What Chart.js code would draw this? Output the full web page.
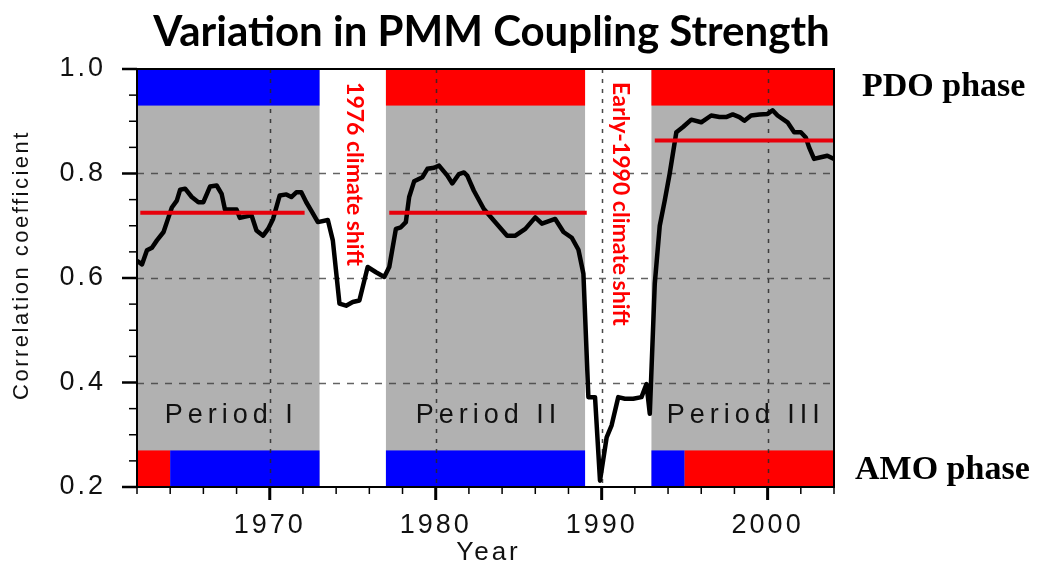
<!DOCTYPE html>
<html>
<head>
<meta charset="utf-8">
<script src="https://cdn.jsdelivr.net/npm/chart.js@4.4.1/dist/chart.umd.min.js"></script>
<style>
  html, body { margin: 0; padding: 0; background: #fff; }
</style>
</head>
<body>
<canvas id="pmmChart" width="1038" height="567"></canvas>
<script>
// PMM coupling strength
const years = [
  1962.0, 1962.3, 1962.6, 1962.9, 1963.2, 1963.6, 1963.8, 1964.1, 1964.4, 1964.6,
  1964.9, 1965.3, 1965.7, 1966.0, 1966.4, 1966.8, 1967.1, 1967.3, 1968.0, 1968.2,
  1968.6, 1968.9, 1969.2, 1969.6, 1969.9, 1970.2, 1970.6, 1971.0, 1971.3, 1971.6,
  1971.9, 1972.2, 1972.5, 1972.9, 1973.5, 1973.8, 1974.2, 1974.6, 1975.0, 1975.4,
  1975.9, 1976.4, 1976.9, 1977.2, 1977.6, 1977.9, 1978.2, 1978.4, 1978.7, 1979.2,
  1979.5, 1979.9, 1980.2, 1980.7, 1981.0, 1981.4, 1981.7, 1981.9, 1982.3, 1982.9,
  1983.5, 1984.3, 1984.8, 1985.4, 1986.0, 1986.4, 1987.2, 1987.7, 1988.2, 1988.6,
  1988.9, 1989.2, 1989.6, 1989.9, 1990.3, 1990.6, 1991.0, 1991.4, 1991.9, 1992.4,
  1992.7, 1992.9, 1993.2, 1993.5, 1993.8, 1994.1, 1994.5, 1994.9, 1995.4, 1996.0,
  1996.6, 1997.1, 1997.5, 1997.9, 1998.3, 1998.6, 1999.0, 1999.5, 2000.0, 2000.3,
  2000.6, 2001.2, 2001.6, 2002.0, 2002.3, 2002.5, 2002.8, 2003.2, 2003.6, 2004.0
];
const coupling = [
  0.633, 0.626, 0.653, 0.658, 0.672, 0.688, 0.707, 0.735, 0.748, 0.769,
  0.771, 0.755, 0.745, 0.745, 0.775, 0.777, 0.761, 0.731, 0.731, 0.715,
  0.718, 0.720, 0.691, 0.681, 0.694, 0.713, 0.758, 0.760, 0.755, 0.764,
  0.764, 0.745, 0.729, 0.707, 0.711, 0.672, 0.551, 0.547, 0.554, 0.557,
  0.621, 0.611, 0.602, 0.621, 0.694, 0.697, 0.707, 0.755, 0.785, 0.793,
  0.809, 0.811, 0.815, 0.796, 0.781, 0.799, 0.802, 0.796, 0.767, 0.732,
  0.710, 0.681, 0.681, 0.694, 0.716, 0.704, 0.713, 0.688, 0.677, 0.654,
  0.608, 0.372, 0.372, 0.212, 0.295, 0.318, 0.372, 0.369, 0.369, 0.372,
  0.397, 0.340, 0.589, 0.700, 0.748, 0.800, 0.879, 0.889, 0.903, 0.898,
  0.911, 0.908, 0.908, 0.913, 0.908, 0.901, 0.911, 0.913, 0.914, 0.921,
  0.911, 0.898, 0.879, 0.879, 0.869, 0.850, 0.828, 0.831, 0.834, 0.828
];

// periods (grey) and their mean coupling (red lines)
const periodNames = ["Period I", "Period II", "Period III"];
const periodStart = [1962, 1977, 1993];
const periodEnd = [1973, 1989, 2004];
const periodMean = [0.725, 0.725, 0.863];
const meanStart = [1962.2, 1977.2, 1993.2];
const meanEnd = [1972.1, 1989.1, 2004];
const pdoPhase = [-1, 1, 1]; // -1 = cold (blue), 1 = warm (red)

// AMO phase segments
const amoStart = [1962, 1964, 1977, 1993, 1995];
const amoEnd = [1964, 1973, 1989, 1995, 2004];
const amoPhase = [1, -1, -1, -1, 1];

// climate shifts (white gaps)
const shiftNames = ["1976 climate shift", "Early-1990 climate shift"];
const shiftCenter = [1975, 1991];

const RED = "#ff0000";
const BLUE = "#0000ff";
const GREY = "#b1b1b1";

const isMajorX = (v) => Math.round(v) % 10 === 0;
const isMajorY = (v) => Math.round(v * 100) % 20 === 0;

const phasePlugin = {
  id: "phases",
  beforeDraw(chart) {
    const { ctx, chartArea: a, scales: { x, y } } = chart;
    ctx.save();
    ctx.fillStyle = "#fff";
    ctx.fillRect(0, 0, chart.width, chart.height);

    const yTop = y.getPixelForValue(1.0);
    const yPdo = y.getPixelForValue(0.93);
    const yAmo = y.getPixelForValue(0.27);
    const yBot = y.getPixelForValue(0.2);

    periodStart.forEach((s, i) => {
      const x0 = x.getPixelForValue(s);
      const x1 = x.getPixelForValue(periodEnd[i]);
      ctx.fillStyle = GREY;
      ctx.fillRect(x0, a.top, x1 - x0, a.bottom - a.top);
      ctx.fillStyle = pdoPhase[i] > 0 ? RED : BLUE;
      ctx.fillRect(x0, yTop, x1 - x0, yPdo - yTop);
    });
    amoStart.forEach((s, i) => {
      const x0 = x.getPixelForValue(s);
      const x1 = x.getPixelForValue(amoEnd[i]);
      ctx.fillStyle = amoPhase[i] > 0 ? RED : BLUE;
      ctx.fillRect(x0, yAmo, x1 - x0, yBot - yAmo);
    });

    // dashed grid at major ticks
    ctx.lineWidth = 1.5;
    ctx.strokeStyle = "rgba(60,60,60,0.8)";
    ctx.setLineDash([7, 7]);
    y.ticks.forEach((t) => {
      if (!isMajorY(t.value) || t.value < 0.3 || t.value > 0.9) return;
      const py = Math.round(y.getPixelForValue(t.value)) + 0.5;
      ctx.beginPath();
      ctx.moveTo(a.left, py);
      ctx.lineTo(a.right, py);
      ctx.stroke();
    });
    ctx.strokeStyle = "rgba(40,40,40,0.85)";
    ctx.setLineDash([4, 6]);
    x.ticks.forEach((t) => {
      if (!isMajorX(t.value)) return;
      const px = Math.round(x.getPixelForValue(t.value)) + 0.5;
      ctx.beginPath();
      ctx.moveTo(px, a.top);
      ctx.lineTo(px, a.bottom);
      ctx.stroke();
    });
    ctx.restore();
    // wide spacing for the tick labels drawn by the scales
    ctx.letterSpacing = "3px";
  },
  afterDraw(chart) {
    const { ctx, chartArea: a, scales: { x, y } } = chart;
    ctx.save();
    ctx.letterSpacing = "0px";

    // frame and tick marks
    ctx.strokeStyle = "#000";
    ctx.lineWidth = 2;
    ctx.strokeRect(a.left, a.top, a.right - a.left, a.bottom - a.top);
    x.ticks.forEach((t) => {
      const px = x.getPixelForValue(t.value);
      ctx.lineWidth = isMajorX(t.value) ? 3 : 1.5;
      ctx.beginPath();
      ctx.moveTo(px, a.bottom);
      ctx.lineTo(px, a.bottom + (isMajorX(t.value) ? 13 : 7));
      ctx.stroke();
    });
    y.ticks.forEach((t) => {
      const py = y.getPixelForValue(t.value);
      ctx.lineWidth = isMajorY(t.value) ? 2.5 : 1.5;
      ctx.beginPath();
      ctx.moveTo(a.left, py);
      ctx.lineTo(a.left - (isMajorY(t.value) ? 15 : 8), py);
      ctx.stroke();
    });

    // axis titles
    ctx.fillStyle = "#111";
    ctx.font = "22px 'Liberation Sans'";
    ctx.letterSpacing = "2.5px";
    ctx.textAlign = "center";
    ctx.textBaseline = "middle";
    ctx.save();
    ctx.translate(22, (a.top + a.bottom) / 2 - 13);
    ctx.rotate(-Math.PI / 2);
    ctx.fillText("Correlation coefficient", 0, 0);
    ctx.restore();
    ctx.font = "26px 'Liberation Sans'";
    ctx.letterSpacing = "3px";
    ctx.fillText("Year", (a.left + a.right) / 2 + 3, 553);

    // period labels
    ctx.font = "27px 'Liberation Sans'";
    ctx.letterSpacing = "5px";
    ctx.textBaseline = "alphabetic";
    periodNames.forEach((name, i) => {
      const cx = (x.getPixelForValue(periodStart[i]) + x.getPixelForValue(periodEnd[i])) / 2;
      ctx.fillText(name, cx + 3, y.getPixelForValue(0.323));
    });

    // climate shift labels (vertical)
    ctx.letterSpacing = "0px";
    ctx.fillStyle = RED;
    ctx.font = "bold 23px Lato";
    ctx.textAlign = "left";
    ctx.textBaseline = "middle";
    shiftNames.forEach((name, i) => {
      ctx.save();
      ctx.translate(x.getPixelForValue(shiftCenter[i]) + 2, y.getPixelForValue(0.975));
      ctx.rotate(Math.PI / 2);
      ctx.fillText(name, 0, 0);
      ctx.restore();
    });

    // phase labels on the right
    ctx.fillStyle = "#000";
    ctx.font = "bold 34px 'Liberation Serif'";
    ctx.fillText("PDO phase", a.right + 28, y.getPixelForValue(0.965));
    ctx.fillText("AMO phase", a.right + 21, y.getPixelForValue(0.232));

    // title
    ctx.font = "bold 42px Lato";
    ctx.textAlign = "center";
    ctx.textBaseline = "alphabetic";
    ctx.fillText("Variation in PMM Coupling Strength", (a.left + a.right) / 2 + 6, 46);
    ctx.restore();
  }
};

const ctxPmm = document.getElementById("pmmChart").getContext("2d");
new Chart(ctxPmm, {
  type: "line",
  data: {
    datasets: [
      {
        label: "PMM coupling",
        data: years.map((yr, i) => ({ x: yr, y: coupling[i] })),
        borderColor: "#000",
        borderWidth: 4.5,
        borderJoinStyle: "round",
        pointRadius: 0,
        tension: 0,
        order: 1,
      },
      ...periodMean.map((m, i) => ({
        label: periodNames[i] + " mean",
        data: [{ x: meanStart[i], y: m }, { x: meanEnd[i], y: m }],
        borderColor: "#e8000b",
        borderWidth: 4,
        pointRadius: 0,
        order: 0,
      })),
    ],
  },
  options: {
    responsive: false,
    animation: false,
    layout: { padding: { top: 69, right: 204, left: 0, bottom: 0 } },
    plugins: {
      legend: { display: false },
      tooltip: { enabled: false },
    },
    scales: {
      x: {
        type: "linear",
        min: 1962,
        max: 2004,
        grid: { display: false },
        border: { display: false },
        afterFit: (scale) => { scale.height = 80; },
        ticks: {
          stepSize: 2,
          autoSkip: false,
          maxRotation: 0,
          padding: 14,
          color: "#111",
          font: { family: "Liberation Sans", size: 27 },
          callback: (v) => (isMajorX(v) ? String(v) : ""),
        },
      },
      y: {
        min: 0.2,
        max: 1.0,
        grid: { display: false },
        border: { display: false },
        afterFit: (scale) => { scale.width = 137; },
        ticks: {
          stepSize: 0.05,
          autoSkip: false,
          padding: 23,
          color: "#111",
          font: { family: "Liberation Sans", size: 27 },
          callback: (v) => (isMajorY(v) ? v.toFixed(1) : ""),
        },
      },
    },
  },
  plugins: [phasePlugin],
});
</script>
</body>
</html>
